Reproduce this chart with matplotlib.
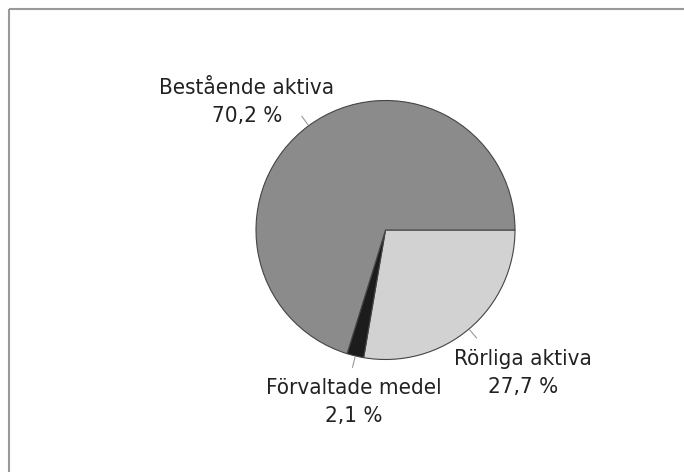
import matplotlib
matplotlib.use('Agg')
import matplotlib.pyplot as plt
import numpy as np

# Data (Swedish labels, clockwise from 3 o'clock)
labels = ['Rörliga aktiva', 'Förvaltade medel', 'Bestående aktiva']
shares = [27.7, 2.1, 70.2]
colors = ['#d2d2d2', '#1c1c1c', '#8b8b8b']

# label text positions in pixel coords (x, y from top)
label_pos = [(523, 373), (354, 401.5), (247, 102.5)]

W, H = 684, 472
CX, CY, R = 385.5, 230, 129.5

fig = plt.figure(figsize=(W / 100, H / 100), dpi=100)
ax = fig.add_axes([0, 0, 1, 1])

wedges, _ = ax.pie(shares, colors=colors, startangle=0, counterclock=False,
                   center=(CX, H - CY), radius=R,
                   wedgeprops=dict(edgecolor='#444', linewidth=0.8))

# pie() resets the limits, so set them afterwards
ax.set_xlim(0, W)
ax.set_ylim(0, H)
ax.set_aspect('equal')
ax.axis('off')

for w, lab, val, (tx, ty) in zip(wedges, labels, shares, label_pos):
    mid = np.deg2rad((w.theta1 + w.theta2) / 2)
    r0, r1 = R * 1.01, R * 1.09
    ax.plot([CX + r0 * np.cos(mid), CX + r1 * np.cos(mid)],
            [H - CY + r0 * np.sin(mid), H - CY + r1 * np.sin(mid)],
            color='#999', lw=0.8)
    txt = f'{lab}\n{val:.1f} %'.replace('.', ',')
    ax.text(tx, H - ty, txt, ha='center', va='center', fontsize=16,
            fontstretch='condensed', family='DejaVu Sans',
            color='#222', linespacing=1.5, multialignment='center')

# frame (top and left rule)
ax.plot([9, W], [H - 9, H - 9], color='#999', lw=1.5, solid_capstyle='butt')
ax.plot([9, 9], [H - 9, 0], color='#999', lw=1.5, solid_capstyle='butt')

fig.savefig('out.png', dpi=100, facecolor='white')
